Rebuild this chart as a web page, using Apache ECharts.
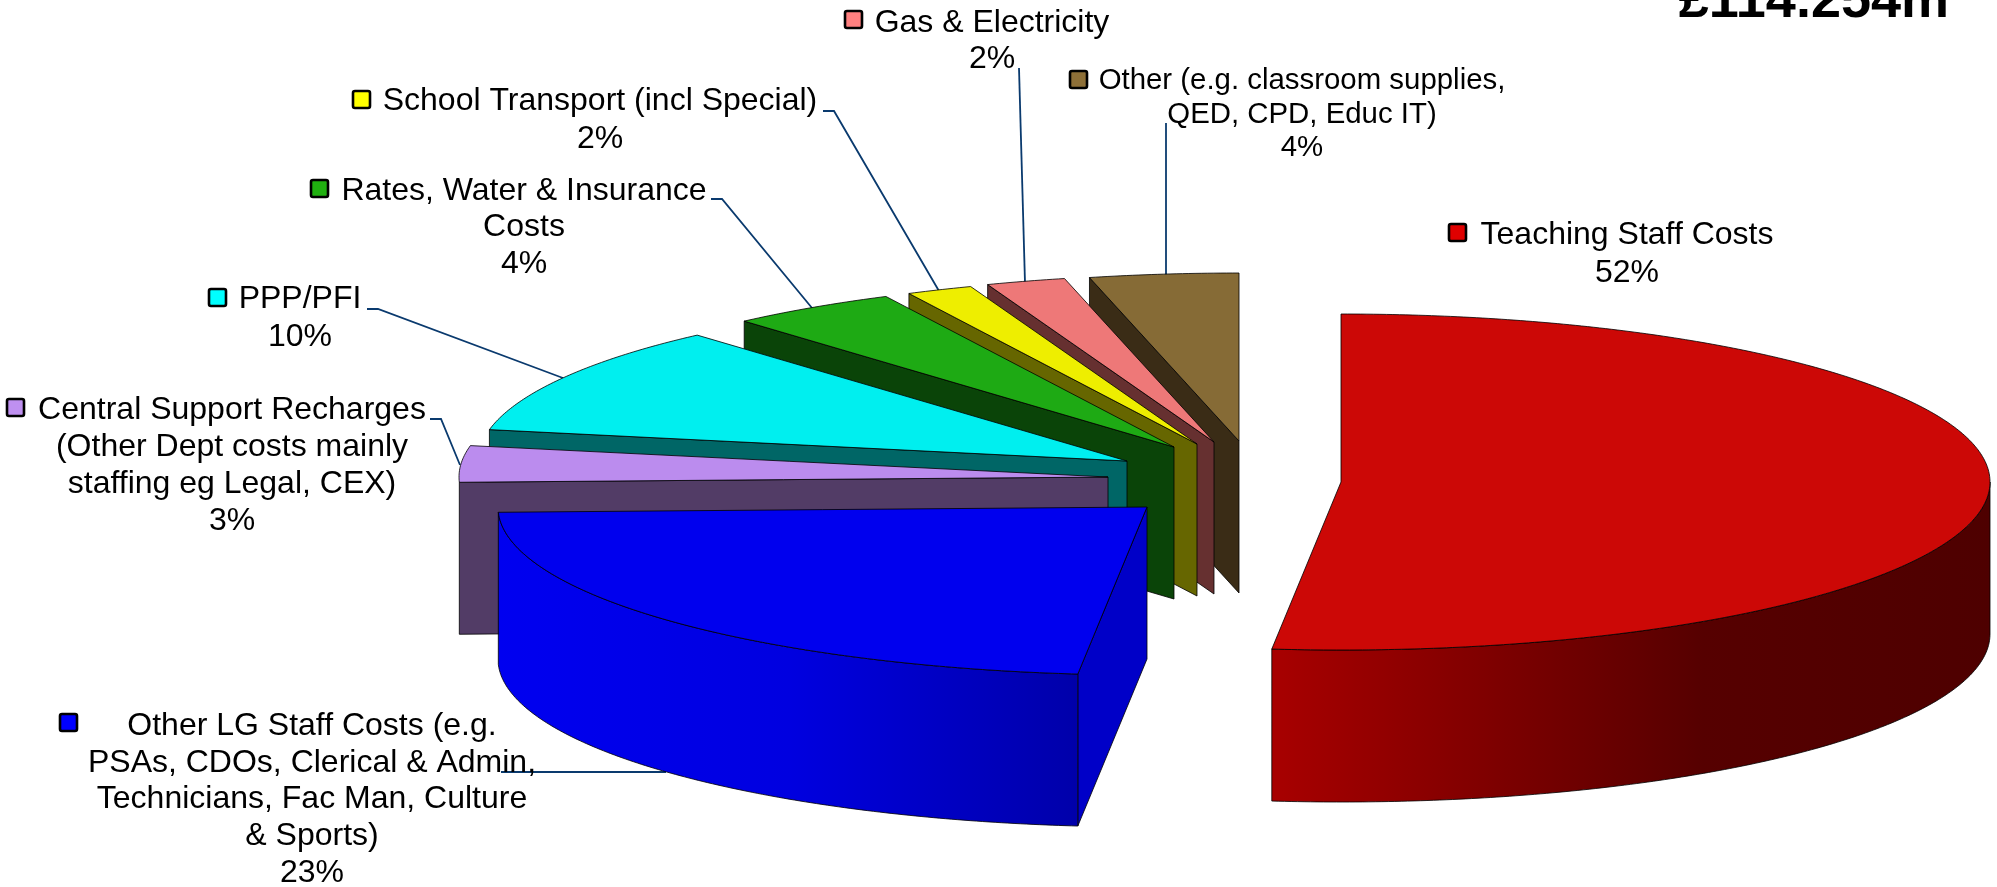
<!DOCTYPE html>
<html>
<head>
<meta charset="utf-8">
<style>html,body{margin:0;padding:0;background:#fff}#c{width:1997px;height:887px}</style>
<script src="https://cdn.jsdelivr.net/npm/echarts@6/dist/echarts.min.js"></script>
</head>
<body>
<div id="c"></div>
<script>
// ---- data ----
const categories = [
  "Teaching Staff Costs",
  "Other LG Staff Costs (e.g.\nPSAs, CDOs, Clerical & Admin,\nTechnicians, Fac Man, Culture\n& Sports)",
  "Central Support Recharges\n(Other Dept costs mainly\nstaffing eg Legal, CEX)",
  "PPP/PFI",
  "Rates, Water & Insurance\nCosts",
  "School Transport (incl Special)",
  "Gas & Electricity",
  "Other (e.g. classroom supplies,\nQED, CPD, Educ IT)"
];
const values = [51.7, 22.8, 3.49, 10.49, 4.2, 1.65, 1.97, 3.7];
const totalLabel = "£114.254m";

// ---- styles and layout ----
const topColors  = ['#CC0806','#0000EE','#BB8CEE','#00EFEF','#1EAA14','#EEEE00','#EE7878','#866B36'];
const wallColors = ['#8A0000','#0000C8','#523C66','#006666','#0A4408','#666600','#663030','#3A2C16'];
const keyColors  = ['#E00000','#0000FF','#BF90F0','#00FFFF','#20B010','#FFFF00','#FF8080','#8E7038'];
const pie = {cx:1224, cy:480, a:649, b:168, depth:152};
// explosion of each slice away from the pie centre
const explode = [[117,2],[-77,27],[-116,-3],[-97,-19],[-50,-33],[-27,-36],[-10,-38],[15,-39]];
const rimGradients = {
  0:[[0,'#A80000'],[0.6,'#560000'],[1,'#4E0000']],
  1:[[0,'#0000F0'],[0.5,'#0000E0'],[1,'#0000AA']]
};
// label block: centre x, first-line centre y, line height, font size; legend key x,y
const labelLayout = [
  {x:1627, y:235, lh:38, fs:32, kx:1448, ky:223},
  {x:312,  y:726, lh:36.8, fs:32, kx:59,  ky:713},
  {x:232,  y:410, lh:37, fs:32, kx:6,   ky:398},
  {x:300,  y:299, lh:38, fs:32, kx:208, ky:288},
  {x:524,  y:191, lh:36.5, fs:32, kx:310, ky:179},
  {x:600,  y:101, lh:38, fs:32, kx:352, ky:90},
  {x:992,  y:23,  lh:36, fs:32, kx:844, ky:10},
  {x:1302, y:81,  lh:33.5, fs:29.4, kx:1069, ky:70}
];
const leaders = [
  null,
  [[501,772],[666,772]],
  [[430,419],[441,419],[460,465]],
  [[367,309],[378,309],[563,378]],
  [[711,199],[722,199],[812,308]],
  [[823,111],[834,111],[939,291]],
  [[1019,68],[1025,283]],
  [[1166,123],[1166,276]]
];
const FONT = '"Liberation Sans", Arial, sans-serif';

// ---- geometry from the values ----
const total = values.reduce((s,v)=>s+v,0);
const rad = v => v/total*Math.PI*2;
const starts = []; values.reduce((s,v,i)=>{starts[i]=s; return s+v;},0);
function pt(c,t){ return [c[0]+pie.a*Math.sin(t), c[1]-pie.b*Math.cos(t)]; }
function arc(c,t0,t1){
  const n=Math.max(2,Math.ceil((t1-t0)/0.01)), out=[];
  for(let k=0;k<=n;k++) out.push(pt(c,t0+(t1-t0)*k/n));
  return out;
}
const edge = {stroke:'#000', lineWidth:0.8, lineJoin:'round'};

function renderSlice(params, api){
  const i=params.dataIndex, v=api.value(0);
  const t0=rad(starts[i]), t1=t0+rad(v);
  const c=[pie.cx+explode[i][0], pie.cy+explode[i][1]];
  const z2=values.length-i, d=pie.depth, kids=[];
  const down=p=>[p[0],p[1]+d];
  // radial wall at the slice's start edge (hidden for the slice whose start faces away)
  if(i>0){
    const p=pt(c,t0);
    kids.push({type:'polygon',z2,silent:true,shape:{points:[c,p,down(p),down(c)]},
      style:Object.assign({fill:wallColors[i]},edge)});
  }
  // outer rim, only on the front half of the ellipse
  const a0=Math.max(t0,Math.PI/2), a1=Math.min(t1,Math.PI*1.5);
  if(rimGradients[i] && a1>a0){
    const top=arc(c,a0,a1), bot=top.slice().reverse().map(down);
    const stops=rimGradients[i].map(s=>({offset:s[0],color:s[1]}));
    const fill=new echarts.graphic.LinearGradient(0,0,1,0,stops);
    kids.push({type:'polygon',z2,silent:true,shape:{points:top.concat(bot)},
      style:Object.assign({fill},edge)});
  }
  // top face
  kids.push({type:'polygon',z2,silent:true,shape:{points:[c].concat(arc(c,t0,t1))},
    style:Object.assign({fill:topColors[i]},edge)});
  return {type:'group',children:kids};
}
function renderLeader(params){
  const l=leaders[params.dataIndex];
  if(!l) return {type:'group',children:[]};
  return {type:'polyline',silent:true,shape:{points:l},style:{fill:null,stroke:'#0A3A6E',lineWidth:1.8}};
}
function renderLabel(params, api){
  const i=params.dataIndex, L=labelLayout[i];
  const text=categories[i]+'\n'+Math.round(api.value(0))+'%';
  const n=text.split('\n').length;
  return {type:'group',children:[
    {type:'rect',silent:true,shape:{x:L.kx+1,y:L.ky+1,width:17,height:17,r:2},
      style:{fill:keyColors[i],stroke:'#000',lineWidth:2.6}},
    {type:'text',silent:true,style:{x:L.x,y:L.y+(n-1)*L.lh/2,text,
      font:L.fs+'px '+FONT,lineHeight:L.lh,fill:'#000',align:'center',verticalAlign:'middle'}}
  ]};
}
const seriesData = values.map(v=>[v]);
const chart = echarts.init(document.getElementById('c'),null,{renderer:'canvas'});
chart.setOption({
  animation:false,
  backgroundColor:'#fff',
  title:{text:totalLabel,right:43,top:-30,
    textStyle:{fontFamily:FONT,fontWeight:'bold',fontSize:54,color:'#000'}},
  tooltip:{show:false},
  series:[
    {type:'custom',coordinateSystem:'none',z:1,renderItem:renderLeader,data:seriesData},
    {type:'custom',coordinateSystem:'none',z:2,renderItem:renderSlice,data:seriesData},
    {type:'custom',coordinateSystem:'none',z:3,renderItem:renderLabel,data:seriesData}
  ]
});
</script>
</body>
</html>
